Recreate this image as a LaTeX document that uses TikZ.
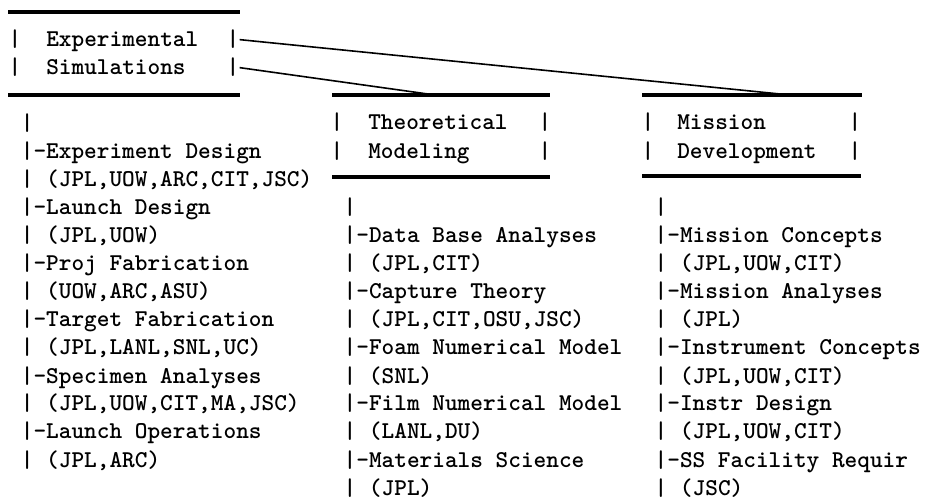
\documentclass[tikz,border=0pt]{standalone}
\begin{document}
\begin{tikzpicture}[x=0.75pt,y=-0.75pt,
  txt/.style={font=\ttfamily\bfseries\fontsize{18.1}{21}\selectfont, inner sep=0pt, anchor=base west},
  bar/.style={font=\ttfamily\bfseries\fontsize{18.1}{21}\selectfont, inner sep=0pt, anchor=base},
  rule/.style={line width=2.3pt},
  link/.style={line width=1.2pt}]
\useasboundingbox (0,0) rectangle (926,499);
% ---- box 1: Experimental Simulations
\draw[rule] (8,12) -- (240,12);
\draw[rule] (8,95) -- (240,95);
\node[bar] (e1l) at (15,47) {|};
\node[txt] (e1)  at (46,47) {Experimental};
\node[bar] (e1r) at (233,47) {|};
\node[bar] (s1l) at (15,75) {|};
\node[txt] (s1)  at (46,75) {Simulations};
\node[bar] (s1r) at (233,75) {|};
% ---- box 2: Theoretical Modeling
\draw[rule] (332,95) -- (550,95);
\draw[rule] (332,177) -- (550,177);
\coordinate (ttop) at (435,95);
\node[bar] (t1l) at (337,130) {|};
\node[txt] (t1)  at (368,130) {Theoretical};
\node[bar] (t1r) at (545,130) {|};
\node[bar] (t2l) at (337,159) {|};
\node[txt] (t2)  at (368,159) {Modeling};
\node[bar] (t2r) at (545,159) {|};
% ---- box 3: Mission Development
\draw[rule] (642,95) -- (862,95);
\draw[rule] (642,176) -- (861,176);
\coordinate (mtop) at (790,95);
\node[bar] (m1l) at (648,130) {|};
\node[txt] (m1)  at (677,130) {Mission};
\node[bar] (m1r) at (855,130) {|};
\node[bar] (m2l) at (648,159) {|};
\node[txt] (m2)  at (677,159) {Development};
\node[bar] (m2r) at (855,159) {|};
% ---- connectors
\draw[link] (e1r.east) -- (mtop);
\draw[link] (s1r.east) -- (ttop);
% ---- left column
\foreach \r/\t [count=\i] in {-1/{|}, 0/{|-Experiment Design}, 1/{| (JPL,UOW,ARC,CIT,JSC)},
  2/{|-Launch Design}, 3/{| (JPL,UOW)}, 4/{|-Proj Fabrication}, 5/{| (UOW,ARC,ASU)},
  6/{|-Target Fabrication}, 7/{| (JPL,LANL,SNL,UC)}, 8/{|-Specimen Analyses},
  9/{| (JPL,UOW,CIT,MA,JSC)}, 10/{|-Launch Operations}, 11/{| (JPL,ARC)}}
  \node[txt] (L\i) at (20.6,{159+28*\r}) {\t};
% ---- middle column
\foreach \r/\t [count=\i] in {2/{|}, 3/{|-Data Base Analyses}, 4/{| (JPL,CIT)},
  5/{|-Capture Theory}, 6/{| (JPL,CIT,OSU,JSC)}, 7/{|-Foam Numerical Model}, 8/{| (SNL)},
  9/{|-Film Numerical Model}, 10/{| (LANL,DU)}, 11/{|-Materials Science}, 12/{| (JPL)}}
  \node[txt] (C\i) at (343.4,{159+28*\r}) {\t};
% ---- right column
\foreach \r/\t [count=\i] in {2/{|}, 3/{|-Mission Concepts}, 4/{| (JPL,UOW,CIT)},
  5/{|-Mission Analyses}, 6/{| (JPL)}, 7/{|-Instrument Concepts}, 8/{| (JPL,UOW,CIT)},
  9/{|-Instr Design}, 10/{| (JPL,UOW,CIT)}, 11/{|-SS Facility Requir}, 12/{| (JSC)}}
  \node[txt] (R\i) at (654.4,{159+28*\r}) {\t};
\end{tikzpicture}
\end{document}
